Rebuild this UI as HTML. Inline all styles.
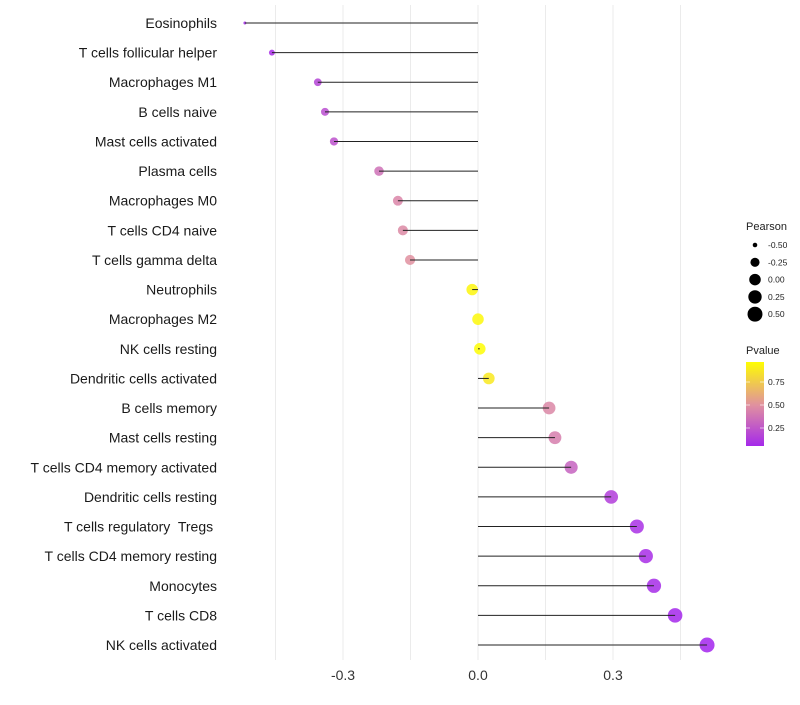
<!DOCTYPE html>
<html><head><meta charset="utf-8"><style>
body{margin:0;background:#fff;font-family:"Liberation Sans",sans-serif}
text{white-space:pre}
</style></head><body>
<svg id="chart" width="800" height="700" xmlns="http://www.w3.org/2000/svg" font-family="Liberation Sans, sans-serif">
<g id="grid"></g><g id="marks"></g><g id="labels"></g><g id="legend"></g>
</svg>
<script>
const categories=["Eosinophils","T cells follicular helper","Macrophages M1","B cells naive","Mast cells activated","Plasma cells","Macrophages M0","T cells CD4 naive","T cells gamma delta","Neutrophils","Macrophages M2","NK cells resting","Dendritic cells activated","B cells memory","Mast cells resting","T cells CD4 memory activated","Dendritic cells resting","T cells regulatory  Tregs ","T cells CD4 memory resting","Monocytes","T cells CD8","NK cells activated"];
const pearson=[-0.518,-0.458,-0.356,-0.34,-0.32,-0.22,-0.178,-0.167,-0.151,-0.013,0.0,0.004,0.024,0.158,0.171,0.207,0.296,0.353,0.373,0.391,0.438,0.509];
const pvalues=[0.04,0.06,0.16,0.2,0.22,0.36,0.45,0.47,0.5,0.96,0.97,0.99,0.9,0.46,0.42,0.3,0.13,0.07,0.06,0.05,0.03,0.02];
const xTicks=[-0.3,0.0,0.3];
const sizeLegend=[-0.5,-0.25,0,0.25,0.5];
const pTicks=[0.75,0.5,0.25];
const NS="http://www.w3.org/2000/svg";
const xs=v=>478+v*450;
const ys=i=>23+i*(622/21);
const rs=v=>1.5+6*Math.sqrt(Math.max(0,(v+0.518)/1.027));
function lerp(a,b,t){return a+(b-a)*t}
function col(p){const s=[[0,[160,32,240]],[0.5,[224,144,160]],[1,[255,255,0]]];let i=p<0.5?0:1;const t=(p-s[i][0])/0.5;const c=s[i][1].map((v,k)=>Math.round(lerp(v,s[i+1][1][k],t)));return `rgb(${c})`}
function mk(tag,attrs,parent){const e=document.createElementNS(NS,tag);for(const k in attrs)e.setAttribute(k,attrs[k]);parent.appendChild(e);return e}
const grid=document.getElementById('grid'),marks=document.getElementById('marks'),labels=document.getElementById('labels'),legend=document.getElementById('legend');
for(let v=-0.45;v<=0.46;v+=0.15){const g=mk('line',{x1:xs(v),x2:xs(v),y1:5,y2:660,stroke:'#ebebeb','stroke-width':1},grid);}
xTicks.forEach(v=>{const t=mk('text',{x:xs(v),y:680,'text-anchor':'middle','font-size':14,fill:'#333'},labels);t.textContent=(v<0?'-':'')+Math.abs(v).toFixed(1);});
categories.forEach((c,i)=>{
const y=ys(i);
const t=mk('text',{x:217,y:y+5,'text-anchor':'end','font-size':14,fill:'#1a1a1a'},labels);t.textContent=c;

const d=mk('circle',{cx:xs(pearson[i]),cy:y,r:rs(pearson[i]),fill:col(pvalues[i]),'fill-opacity':0.85},marks);

const l=mk('line',{x1:xs(0),x2:xs(pearson[i]),y1:y,y2:y,stroke:'#222','stroke-width':1},marks);

});
let tt=mk('text',{x:746,y:230,'font-size':11,fill:'#222'},legend);tt.textContent='Pearson';
sizeLegend.forEach((v,i)=>{const y=245+i*17.3;const c=mk('circle',{cx:755,cy:y,r:rs(v),fill:'#000'},legend);
const t=mk('text',{x:768,y:y+3,'font-size':8.5,fill:'#222'},legend);t.textContent=v.toFixed(2);});
tt=mk('text',{x:746,y:354,'font-size':11,fill:'#222'},legend);tt.textContent='Pvalue';
const defs=mk('defs',{},legend);const gr=mk('linearGradient',{id:'pg',x1:0,y1:1,x2:0,y2:0},defs);
[[0,0.04],[0.5,0.5],[1,0.99]].forEach(s=>mk('stop',{offset:((s[1]-0.04)/0.95),'stop-color':col(s[1])},gr));
const bar=mk('rect',{x:746,y:362,width:18,height:84,fill:'url(#pg)'},legend);
const py=p=>451-p*92;
pTicks.forEach(p=>{mk('line',{x1:746,x2:750,y1:py(p),y2:py(p),stroke:'#fff','stroke-opacity':0.6},legend);mk('line',{x1:760,x2:764,y1:py(p),y2:py(p),stroke:'#fff','stroke-opacity':0.6},legend);
const t=mk('text',{x:768,y:py(p)+3,'font-size':8.5,fill:'#222'},legend);t.textContent=p.toFixed(2);});
</script>
</body></html>
